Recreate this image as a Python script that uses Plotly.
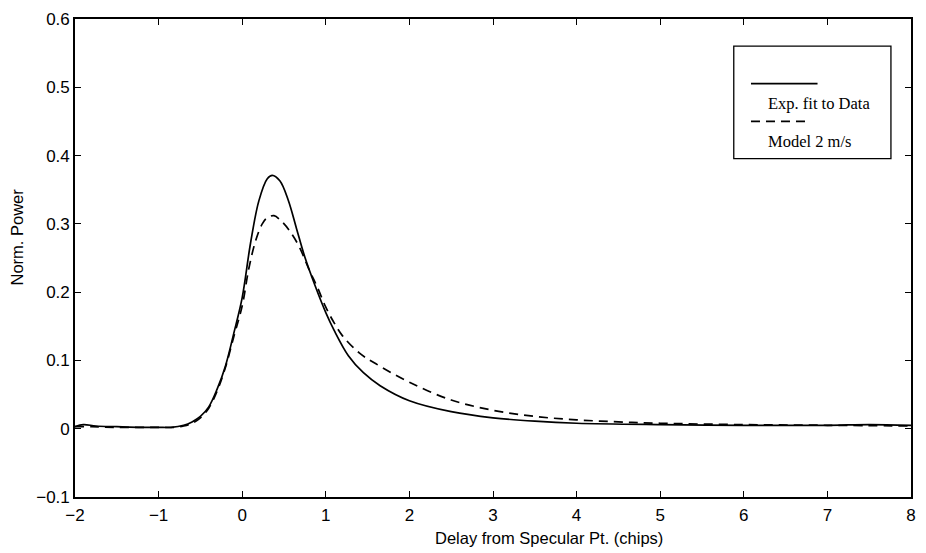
import plotly.graph_objects as go

# Solid: exponential fit to data
fit_x = [-2.0, -1.9, -1.75, -1.5, -1.2, -1.0, -0.85, -0.7, -0.6, -0.5, -0.4, -0.3, -0.2, -0.1,
         0.0, 0.1, 0.2, 0.3, 0.36, 0.45, 0.55, 0.65, 0.75, 0.87, 1.0, 1.1, 1.27, 1.45, 1.65,
         2.0, 2.5, 3.0, 3.5, 4.0, 5.0, 6.0, 7.0, 7.5, 8.0]
fit_y = [0.003, 0.006, 0.004, 0.003, 0.002, 0.002, 0.002, 0.005, 0.010, 0.018, 0.032, 0.058, 0.092, 0.140,
         0.192, 0.272, 0.334, 0.366, 0.371, 0.363, 0.335, 0.293, 0.251, 0.210, 0.170, 0.144, 0.107, 0.082, 0.063,
         0.041, 0.025, 0.016, 0.011, 0.008, 0.006, 0.005, 0.005, 0.006, 0.005]

# Dashed: model 2 m/s
model_x = [-2.0, -1.8, -1.5, -1.0, -0.8, -0.7, -0.6, -0.5, -0.4, -0.3, -0.2, -0.1,
           0.0, 0.08, 0.16, 0.24, 0.3, 0.38, 0.46, 0.56, 0.68, 0.8, 0.9, 1.0, 1.1, 1.2, 1.4, 1.6,
           2.0, 2.5, 3.0, 3.5, 4.0, 4.5, 5.0, 6.0, 7.0, 8.0]
model_y = [0.003, 0.003, 0.002, 0.002, 0.002, 0.004, 0.008, 0.016, 0.030, 0.055, 0.090, 0.135,
           0.180, 0.235, 0.275, 0.300, 0.309, 0.312, 0.305, 0.291, 0.267, 0.233, 0.207, 0.178, 0.155, 0.136, 0.111, 0.095,
           0.068, 0.042, 0.027, 0.018, 0.013, 0.010, 0.008, 0.006, 0.005, 0.004]

x_ticks = [-2, -1, 0, 1, 2, 3, 4, 5, 6, 7, 8]
y_ticks = [-0.1, 0, 0.1, 0.2, 0.3, 0.4, 0.5, 0.6]
y_tick_text = ["\u22120.1", "0", "0.1", "0.2", "0.3", "0.4", "0.5", "0.6"]
x_tick_text = ["\u22122", "\u22121", "0", "1", "2", "3", "4", "5", "6", "7", "8"]

fig = go.Figure()
fig.add_trace(go.Scatter(x=fit_x, y=fit_y, mode="lines", line=dict(color="black", width=1.7, shape="spline"),
                         name="Exp. fit to Data", showlegend=False))
fig.add_trace(go.Scatter(x=model_x, y=model_y, mode="lines",
                         line=dict(color="black", width=1.7, dash="9px,6px", shape="spline"),
                         name="Model 2 m/s", showlegend=False))

axis_common = dict(showgrid=False, zeroline=False, showline=True, linecolor="black", linewidth=1.6,
                   ticks="inside", ticklen=6, tickcolor="black", tickwidth=1.2, mirror="allticks",
                   tickfont=dict(family="Liberation Sans, Arial", size=17, color="black"))

fig.update_layout(
    width=926, height=553,
    margin=dict(l=75, r=10, t=15, b=56),
    paper_bgcolor="white", plot_bgcolor="white",
    xaxis=dict(range=[-2, 8], tickvals=x_ticks, ticktext=x_tick_text, ticklabelstandoff=2, **axis_common),
    yaxis=dict(range=[-0.1, 0.6], tickvals=y_ticks, ticktext=y_tick_text, **axis_common),
    showlegend=False,
)

font_sans = dict(family="Liberation Sans, Arial", size=16.5, color="black")
fig.add_annotation(text="Delay from Specular Pt. (chips)", xref="paper", yref="paper", x=0.567, y=-0.085,
                   xanchor="center", yanchor="middle", showarrow=False, font=font_sans)
fig.add_annotation(text="Norm. Power", xref="paper", yref="paper", x=-0.069, y=0.5436, textangle=-90,
                   xanchor="center", yanchor="middle", showarrow=False, font=font_sans)

# Legend box drawn manually (line sample above text as in original)
fig.add_shape(type="rect", xref="paper", yref="paper", x0=0.788, x1=0.976, y0=0.708, y1=0.9434,
              line=dict(color="black", width=1.3), fillcolor="white")
fig.add_shape(type="line", xref="paper", yref="paper", x0=0.8086, x1=0.8882, y0=0.865, y1=0.865,
              line=dict(color="black", width=1.7))
fig.add_shape(type="line", xref="paper", yref="paper", x0=0.8086, x1=0.874, y0=0.7857, y1=0.7857,
              line=dict(color="black", width=1.7, dash="9px,6px"))
font_serif = dict(family="Liberation Serif, Times New Roman", size=16.5, color="black")
fig.add_annotation(text="Exp. fit to Data", xref="paper", yref="paper", x=0.8264, y=0.8237,
                   xanchor="left", yanchor="middle", showarrow=False, font=font_serif)
fig.add_annotation(text="Model 2 m/s", xref="paper", yref="paper", x=0.8264, y=0.7442,
                   xanchor="left", yanchor="middle", showarrow=False, font=font_serif)

fig.write_html("out.html")
